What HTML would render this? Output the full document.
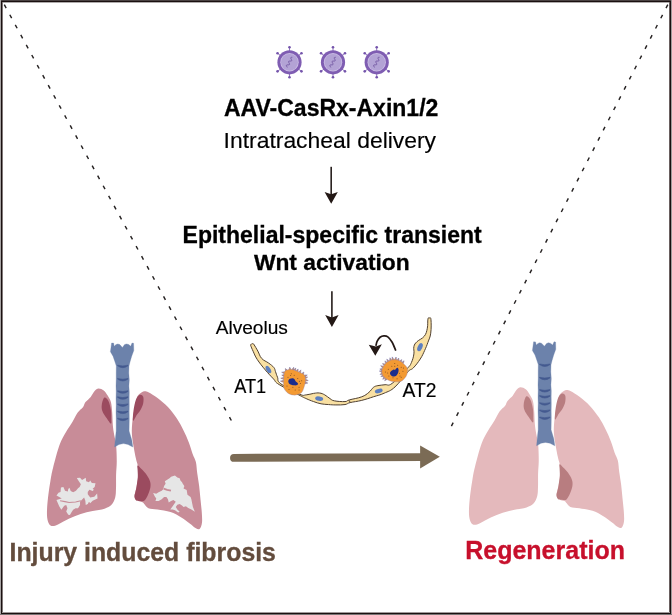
<!DOCTYPE html>
<html><head><meta charset="utf-8"><style>
html,body{margin:0;padding:0;background:#fff;width:672px;height:615px;overflow:hidden}
svg{display:block;will-change:transform}
text{font-family:"Liberation Sans",sans-serif}
</style></head><body>
<svg width="672" height="615" viewBox="0 0 672 615">
<g shape-rendering="crispEdges"><rect x="0" y="0" width="672" height="615" fill="#fff"/><rect x="2" y="2" width="668" height="1" fill="#b0acac"/><rect x="2" y="2" width="1" height="611" fill="#807878"/><rect x="669" y="2" width="1" height="611" fill="#6a6060"/><rect x="2" y="612" width="668" height="1" fill="#a09a9a"/><rect x="0" y="0" width="672" height="1" fill="#4a4242"/><rect x="0" y="0" width="1" height="615" fill="#a8a4a4"/><rect x="671" y="0" width="1" height="615" fill="#a09a9a"/><rect x="0" y="614" width="672" height="1" fill="#7a7575"/><rect x="1" y="1" width="670" height="1" fill="#1a1010"/><rect x="1" y="1" width="1" height="613" fill="#1a1010"/><rect x="670" y="1" width="1" height="613" fill="#1a1010"/><rect x="1" y="613" width="670" height="1" fill="#1a1010"/></g>
<line x1="4.3" y1="4.7" x2="231.6" y2="421" stroke="#262222" stroke-width="1.45" stroke-dasharray="3.9 7.56"/>
<line x1="667.8" y1="4.6" x2="450.4" y2="428" stroke="#262222" stroke-width="1.45" stroke-dasharray="3.9 7.56"/>
<g transform="translate(289.5,62.3)"><line x1="0" y1="0" x2="0" y2="-15" stroke="#7a58b0" stroke-width="0.8"/><circle cx="0" cy="-15" r="1.3" fill="#7454ab"/><line x1="0" y1="0" x2="11.98" y2="-9.03" stroke="#7a58b0" stroke-width="0.8"/><circle cx="11.98" cy="-9.03" r="1.3" fill="#7454ab"/><line x1="0" y1="0" x2="11.98" y2="9.03" stroke="#7a58b0" stroke-width="0.8"/><circle cx="11.98" cy="9.03" r="1.3" fill="#7454ab"/><line x1="0" y1="0" x2="0" y2="15" stroke="#7a58b0" stroke-width="0.8"/><circle cx="0" cy="15" r="1.3" fill="#7454ab"/><line x1="0" y1="0" x2="-11.98" y2="9.03" stroke="#7a58b0" stroke-width="0.8"/><circle cx="-11.98" cy="9.03" r="1.3" fill="#7454ab"/><line x1="0" y1="0" x2="-11.98" y2="-9.03" stroke="#7a58b0" stroke-width="0.8"/><circle cx="-11.98" cy="-9.03" r="1.3" fill="#7454ab"/><circle r="12.1" fill="#7f5db2"/><circle r="9.2" fill="#cbbde5"/><circle r="8.4" fill="#b3a3d5"/><path d="M2.8,-5 L2.26,-4.98 L1.79,-4.93 L1.44,-4.8 L1.24,-4.59 L1.21,-4.28 L1.32,-3.89 L1.54,-3.44 L1.81,-2.97 L2.05,-2.5 L2.21,-2.09 L2.23,-1.75 L2.1,-1.5 L1.81,-1.34 L1.38,-1.26 L0.86,-1.24 L0.31,-1.22 L-0.19,-1.18 L-0.59,-1.09 L-0.85,-0.91 L-0.95,-0.64 L-0.89,-0.28 L-0.71,0.15 L-0.45,0.62 L-0.19,1.09 L0.01,1.53 L0.09,1.9 L0.02,2.19 L-0.22,2.38 L-0.6,2.48 L-1.09,2.53 L-1.63,2.54 L-2.16,2.57 L-2.61,2.63 L-2.93,2.78 L-3.09,3.01 L-3.08,3.34 L-2.94,3.74 L-2.71,4.2 L-2.44,4.68 L-2.21,5.14" fill="none" stroke="#6c4f9c" stroke-width="0.85"/></g>
<g transform="translate(333,62.3)"><line x1="0" y1="0" x2="0" y2="-15" stroke="#7a58b0" stroke-width="0.8"/><circle cx="0" cy="-15" r="1.3" fill="#7454ab"/><line x1="0" y1="0" x2="11.98" y2="-9.03" stroke="#7a58b0" stroke-width="0.8"/><circle cx="11.98" cy="-9.03" r="1.3" fill="#7454ab"/><line x1="0" y1="0" x2="11.98" y2="9.03" stroke="#7a58b0" stroke-width="0.8"/><circle cx="11.98" cy="9.03" r="1.3" fill="#7454ab"/><line x1="0" y1="0" x2="0" y2="15" stroke="#7a58b0" stroke-width="0.8"/><circle cx="0" cy="15" r="1.3" fill="#7454ab"/><line x1="0" y1="0" x2="-11.98" y2="9.03" stroke="#7a58b0" stroke-width="0.8"/><circle cx="-11.98" cy="9.03" r="1.3" fill="#7454ab"/><line x1="0" y1="0" x2="-11.98" y2="-9.03" stroke="#7a58b0" stroke-width="0.8"/><circle cx="-11.98" cy="-9.03" r="1.3" fill="#7454ab"/><circle r="12.1" fill="#7f5db2"/><circle r="9.2" fill="#cbbde5"/><circle r="8.4" fill="#b3a3d5"/><path d="M2.8,-5 L2.26,-4.98 L1.79,-4.93 L1.44,-4.8 L1.24,-4.59 L1.21,-4.28 L1.32,-3.89 L1.54,-3.44 L1.81,-2.97 L2.05,-2.5 L2.21,-2.09 L2.23,-1.75 L2.1,-1.5 L1.81,-1.34 L1.38,-1.26 L0.86,-1.24 L0.31,-1.22 L-0.19,-1.18 L-0.59,-1.09 L-0.85,-0.91 L-0.95,-0.64 L-0.89,-0.28 L-0.71,0.15 L-0.45,0.62 L-0.19,1.09 L0.01,1.53 L0.09,1.9 L0.02,2.19 L-0.22,2.38 L-0.6,2.48 L-1.09,2.53 L-1.63,2.54 L-2.16,2.57 L-2.61,2.63 L-2.93,2.78 L-3.09,3.01 L-3.08,3.34 L-2.94,3.74 L-2.71,4.2 L-2.44,4.68 L-2.21,5.14" fill="none" stroke="#6c4f9c" stroke-width="0.85"/></g>
<g transform="translate(376.7,62.3)"><line x1="0" y1="0" x2="0" y2="-15" stroke="#7a58b0" stroke-width="0.8"/><circle cx="0" cy="-15" r="1.3" fill="#7454ab"/><line x1="0" y1="0" x2="11.98" y2="-9.03" stroke="#7a58b0" stroke-width="0.8"/><circle cx="11.98" cy="-9.03" r="1.3" fill="#7454ab"/><line x1="0" y1="0" x2="11.98" y2="9.03" stroke="#7a58b0" stroke-width="0.8"/><circle cx="11.98" cy="9.03" r="1.3" fill="#7454ab"/><line x1="0" y1="0" x2="0" y2="15" stroke="#7a58b0" stroke-width="0.8"/><circle cx="0" cy="15" r="1.3" fill="#7454ab"/><line x1="0" y1="0" x2="-11.98" y2="9.03" stroke="#7a58b0" stroke-width="0.8"/><circle cx="-11.98" cy="9.03" r="1.3" fill="#7454ab"/><line x1="0" y1="0" x2="-11.98" y2="-9.03" stroke="#7a58b0" stroke-width="0.8"/><circle cx="-11.98" cy="-9.03" r="1.3" fill="#7454ab"/><circle r="12.1" fill="#7f5db2"/><circle r="9.2" fill="#cbbde5"/><circle r="8.4" fill="#b3a3d5"/><path d="M2.8,-5 L2.26,-4.98 L1.79,-4.93 L1.44,-4.8 L1.24,-4.59 L1.21,-4.28 L1.32,-3.89 L1.54,-3.44 L1.81,-2.97 L2.05,-2.5 L2.21,-2.09 L2.23,-1.75 L2.1,-1.5 L1.81,-1.34 L1.38,-1.26 L0.86,-1.24 L0.31,-1.22 L-0.19,-1.18 L-0.59,-1.09 L-0.85,-0.91 L-0.95,-0.64 L-0.89,-0.28 L-0.71,0.15 L-0.45,0.62 L-0.19,1.09 L0.01,1.53 L0.09,1.9 L0.02,2.19 L-0.22,2.38 L-0.6,2.48 L-1.09,2.53 L-1.63,2.54 L-2.16,2.57 L-2.61,2.63 L-2.93,2.78 L-3.09,3.01 L-3.08,3.34 L-2.94,3.74 L-2.71,4.2 L-2.44,4.68 L-2.21,5.14" fill="none" stroke="#6c4f9c" stroke-width="0.85"/></g>
<text x="224" y="115.5" font-size="23" font-weight="bold" fill="#000" stroke="#000" stroke-width="0.3">AAV-CasRx-Axin1/2</text>
<text x="223.6" y="147.7" font-size="22.9" font-weight="normal" fill="#000" stroke="#000" stroke-width="0.15">Intratracheal delivery</text>
<text x="182.6" y="242.9" font-size="23" font-weight="bold" fill="#000" stroke="#000" stroke-width="0.3">Epithelial-specific transient</text>
<text x="253.9" y="270.1" font-size="22.8" font-weight="bold" fill="#000" stroke="#000" stroke-width="0.3">Wnt activation</text>
<text x="215.7" y="334.1" font-size="19.1" font-weight="normal" fill="#000" stroke="#000" stroke-width="0.15">Alveolus</text>
<text x="234.2" y="393.2" font-size="19.3" font-weight="normal" fill="#000" stroke="#000" stroke-width="0.15" textLength="32" lengthAdjust="spacingAndGlyphs">AT1</text>
<text x="402.6" y="396.6" font-size="19.3" font-weight="normal" fill="#000" stroke="#000" stroke-width="0.15">AT2</text>
<text x="9.5" y="561" font-size="24.85" font-weight="bold" fill="#634c3d" stroke="#634c3d" stroke-width="0.3">Injury induced fibrosis</text>
<text x="465.2" y="559.4" font-size="25" font-weight="bold" fill="#c7102c" stroke="#c7102c" stroke-width="0.3">Regeneration</text>
<line x1="331.2" y1="166.8" x2="331.2" y2="195.3" stroke="#2b2321" stroke-width="1.65"/><path d="M324.6,192 L331.2,194.3 L337.8,192 L331.2,203.7 Z" fill="#231815"/>
<line x1="331.9" y1="291.2" x2="331.9" y2="318.6" stroke="#2b2321" stroke-width="1.65"/><path d="M325.2,314.9 L331.9,317.6 L338.6,314.9 L331.9,327 Z" fill="#231815"/>
<line x1="234" y1="457.9" x2="422" y2="457.1" stroke="#7b6b55" stroke-width="7.9" stroke-linecap="round"/>
<path d="M420.1,445.4 L439.8,456.8 L420.1,468.5 Z" fill="#7b6b55"/>
<g transform="translate(0,0)"><path d="M98.54,388.46 C97.02,388.56 95.93,389.65 94.63,391.06 C93.33,392.47 92.25,395.07 90.73,396.91 C89.21,398.75 86.83,400.38 85.53,402.11 C84.23,403.85 84.23,405.58 82.93,407.32 C81.63,409.05 79.46,410.14 77.72,412.52 C75.99,414.91 74.47,418.37 72.52,421.63 C70.57,424.88 68.18,428.13 66.02,432.03 C63.85,435.93 61.68,439.04 59.51,445.04 C57.34,451.04 54.53,462.01 53.01,468.01 C51.49,474 51.17,476.68 50.41,481.02 C49.65,485.35 49,489.69 48.46,494.02 C47.91,498.36 47.37,503.13 47.15,507.03 C46.94,510.93 46.83,514.62 47.15,517.44 C47.48,520.26 48.21,522.52 49.11,523.94 C50,525.37 51.02,525.91 52.5,526 C53.98,526.09 55.28,525.7 58,524.5 C60.72,523.3 65.02,520.55 68.8,518.8 C72.58,517.05 76.73,515.3 80.7,514 C84.67,512.7 88.63,511.88 92.6,511 C96.57,510.12 101.35,509.73 104.5,508.7 C107.65,507.67 109.72,506.67 111.5,504.8 C113.28,502.93 114.45,500.3 115.2,497.5 C115.95,494.7 115.85,491.83 116,488 C116.15,484.17 115.97,478.93 116.1,474.51 C116.22,470.1 116.75,466.42 116.75,461.5 C116.75,456.59 116.53,449.52 116.1,445.04 C115.66,440.56 114.69,437.89 114.15,434.63 C113.6,431.38 113.17,429.21 112.85,425.53 C112.52,421.84 112.52,416.42 112.2,412.52 C111.87,408.62 111.65,404.93 110.89,402.11 C110.14,399.3 108.83,397.56 107.64,395.61 C106.45,393.66 105.26,391.6 103.74,390.41 C102.22,389.21 100.05,388.35 98.54,388.46 Z" fill="#c88c98"/><path d="M104.39,397.56 C105.47,396.91 107.21,398.75 108.29,400.81 C109.38,402.87 110.4,406.88 110.89,409.92 C111.39,412.95 111.28,416.75 111.28,419.02 C111.28,421.3 111.72,423.79 110.89,423.58 C110.07,423.36 107.75,419.78 106.34,417.72 C104.93,415.66 103.2,413.39 102.44,411.22 C101.68,409.05 101.46,406.99 101.79,404.72 C102.11,402.44 103.31,398.21 104.39,397.56 Z" fill="#9b4b5f"/><path d="M138.01,395.41 C139.09,394.11 141.48,392.05 143.21,391.5 C144.95,390.96 146.03,391.07 148.41,392.15 C150.8,393.24 154.27,395.51 157.52,398.01 C160.77,400.5 164.67,403.64 167.93,407.11 C171.18,410.58 174.43,414.92 177.03,418.82 C179.63,422.72 181.59,426.63 183.54,430.53 C185.49,434.43 187.22,438.33 188.74,442.24 C190.26,446.14 191.45,450.66 192.64,453.94 C193.83,457.23 195.14,458.77 195.89,461.95 C196.65,465.13 196.65,469 197.2,473.01 C197.74,477.02 198.6,481.68 199.15,486.02 C199.69,490.35 200.01,494.69 200.45,499.02 C200.88,503.36 201.49,508.13 201.75,512.03 C202.01,515.93 202.33,519.66 202.01,522.44 C201.68,525.21 200.82,527.71 199.8,528.68 C198.78,529.66 197.52,529.12 195.89,528.29 C194.27,527.47 192.53,525.58 190.04,523.74 C187.55,521.9 184.19,519.19 180.93,517.24 C177.68,515.28 174.43,513.33 170.53,512.03 C166.63,510.73 161.21,510.08 157.52,509.43 C153.83,508.78 150.58,509 148.41,508.13 C146.25,507.26 145.5,505.22 144.51,504.23 C143.53,503.24 143.75,502.8 142.5,502.2 C141.25,501.6 138.33,501.55 137,500.6 C135.67,499.65 134.62,498.6 134.5,496.5 C134.38,494.4 135.7,491.25 136.3,488 C136.9,484.75 137.85,480.67 138.1,477 C138.35,473.33 138.18,469.17 137.8,466 C137.42,462.83 136.74,462.83 135.8,458 C134.86,453.17 132.76,442.7 132.15,437.03 C131.55,431.37 131.83,428.36 132.15,424.02 C132.48,419.69 133.35,415.14 134.11,411.02 C134.86,406.9 136.06,401.91 136.71,399.31 C137.36,396.71 136.92,396.71 138.01,395.41 Z" fill="#c88c98"/><path d="M139.96,394.76 C141.15,394.32 142.67,395.3 143.21,396.71 C143.75,398.12 143.64,401.04 143.21,403.21 C142.78,405.38 141.69,407.76 140.61,409.72 C139.53,411.67 137.96,413.08 136.71,414.92 C135.45,416.76 133.61,421.42 133.07,420.77 C132.52,420.12 132.96,414.59 133.46,411.02 C133.95,407.44 134.97,402.02 136.06,399.31 C137.14,396.6 138.77,395.19 139.96,394.76 Z" fill="#9b4b5f"/><path d="M137.6,465.5 C138.25,465.33 140.12,467.62 141.5,469 C142.88,470.38 144.5,471.82 145.9,473.8 C147.3,475.78 149.15,478.67 149.9,480.9 C150.65,483.13 150.72,484.88 150.4,487.2 C150.08,489.52 148.98,492.57 148,494.8 C147.02,497.03 145.83,499.58 144.5,500.6 C143.17,501.62 141.42,500.97 140,500.9 C138.58,500.83 136.92,500.93 136,500.2 C135.08,499.47 134.6,497.87 134.5,496.5 C134.4,495.13 135.07,493.58 135.4,492 C135.73,490.42 136.1,489.5 136.5,487 C136.9,484.5 137.62,479.83 137.8,477 C137.98,474.17 137.63,471.92 137.6,470 C137.57,468.08 136.95,465.67 137.6,465.5 Z" fill="#9b4b5f"/><path d="M76.8,478.07 L80.05,477.66 L82.08,480.1 L84.52,478.47 L85.74,477.66 L86.15,481.32 L88.99,482.13 L90.21,480.5 L91.84,482.94 L95.5,483.35 L94.68,487.01 L92.65,488.63 L93.87,489.85 L92.65,491.07 L89.4,489.85 L87.77,491.89 L87.77,494.33 L90.21,497.58 L94.28,496.76 L97.12,493.51 L97.53,498.39 L92.65,500.83 L90.21,503.27 L88.99,501.64 L87.77,504.08 L85.74,504.89 L85.33,500.83 L84.11,497.58 L81.67,500.02 L80.05,501.64 L80.05,504.89 L78.02,508.15 L75.58,508.15 L73.14,509.77 L71.51,512.21 L69.89,515.06 L68.26,514.65 L66.23,511.4 L67.45,508.15 L66.23,504.89 L64.2,505.71 L61.35,509.77 L59.32,506.52 L56.47,500.02 L58.91,499.2 L61.76,498.39 L59.72,497.17 L56.47,495.54 L58.5,492.7 L60.54,491.89 L60.94,487.41 L63.38,487.01 L65.01,490.67 L67.85,491.48 L68.26,489.04 L69.48,487.82 L70.7,491.07 L73.14,492.29 L75.98,490.67 L78.02,488.23 L79.64,487.01 L80.86,484.16 L78.83,481.32 Z" fill="#e6e6e6"/><path d="M60.13,500.67 L65.01,501.64 L69.07,502.46 L75.58,502.05 L80.86,500.83" fill="none" stroke="#c88c98" stroke-width="1.1"/><path d="M171.07,476.68 L174.98,475.51 L177.32,477.46 L179.66,478.24 L180.44,480.59 L182,482.15 L182.78,483.71 L184.34,486.05 L183.56,488.39 L185.12,489.17 L186.68,489.95 L187.46,494.63 L190.59,496.98 L191.37,499.32 L192.15,503.22 L192.93,507.12 L194.88,511.8 L191.37,509.46 L188.24,507.9 L185.9,506.34 L183.56,507.12 L182,505.56 L179.66,504 L177.32,504.78 L175.76,507.12 L177.32,509.46 L179.66,511.8 L178.1,512.59 L174.98,510.24 L172.63,509.46 L170.29,509.46 L172.63,506.34 L174.2,504 L175.76,501.66 L173.41,500.1 L171.07,500.88 L168.73,502.44 L167.95,499.32 L166.39,496.98 L164.05,496.98 L161.71,499.32 L158.59,500.88 L155.46,500.88 L156.24,498.54 L154.68,496.2 L153.12,493.07 L156.24,493.85 L158.59,492.29 L161.71,490.73 L163.27,489.17 L164.05,486.05 L165.61,483.71 L164.83,481.37 L167.17,479.8 L169.51,478.24 Z" fill="#e6e6e6"/><path d="M163.66,488.55 L167.17,489.8 L170.92,490.73" fill="none" stroke="#c88c98" stroke-width="1.8"/><path d="M111.6,343 L113.6,343.1 L114.2,346.2 L116,344.6 L117.8,343.9 L119.8,344.6 L122.4,347.4 L124.6,344.6 L126.6,343.9 L128.8,344.6 L130.7,346.3 L132,343 L133.6,343.3 L133.8,350.5 L131.7,356.2 L130,361.9 L129,366 L128.8,373 L129.3,380 L128.9,386 L129.3,392 L129.2,398 L129.3,405 L129.2,412 L129.3,419 L129.1,431 L131.8,440 L132.8,447 L128,444.5 L123.5,443.6 L119,444.5 L114.6,447 L115.2,440 L116.2,431 L116.2,419 L116,412 L116.2,405 L116,398 L116.2,392 L116,386 L116.2,380 L116.2,373 L116.3,366 L115,361.9 L113,356.2 L110.4,351.7 Z" fill="#6c82ab" stroke="#6c82ab" stroke-width="0.3" stroke-linejoin="round"/><path d="M117.6,365.2 Q122.8,366.6 128,365.2 L128,365.8 Q122.8,369.6 117.6,365.8 Z" fill="#43598f" stroke="#43598f" stroke-width="0.6" stroke-linejoin="round"/><path d="M117.6,378.5 Q122.8,379.9 128,378.5 L128,379.1 Q122.8,382.9 117.6,379.1 Z" fill="#43598f" stroke="#43598f" stroke-width="0.6" stroke-linejoin="round"/><path d="M117.6,390.8 Q122.8,392.2 128,390.8 L128,391.4 Q122.8,395.2 117.6,391.4 Z" fill="#43598f" stroke="#43598f" stroke-width="0.6" stroke-linejoin="round"/><path d="M117.6,396.8 Q122.8,398.2 128,396.8 L128,397.4 Q122.8,401.2 117.6,397.4 Z" fill="#43598f" stroke="#43598f" stroke-width="0.6" stroke-linejoin="round"/><path d="M117.6,403.9 Q122.8,405.3 128,403.9 L128,404.5 Q122.8,408.3 117.6,404.5 Z" fill="#43598f" stroke="#43598f" stroke-width="0.6" stroke-linejoin="round"/><path d="M117.6,411.1 Q122.8,412.5 128,411.1 L128,411.7 Q122.8,415.5 117.6,411.7 Z" fill="#43598f" stroke="#43598f" stroke-width="0.6" stroke-linejoin="round"/><path d="M117.6,418.2 Q122.8,419.6 128,418.2 L128,418.8 Q122.8,422.6 117.6,418.8 Z" fill="#43598f" stroke="#43598f" stroke-width="0.6" stroke-linejoin="round"/></g>
<g transform="translate(422,-1.2)"><path d="M98.54,388.46 C97.02,388.56 95.93,389.65 94.63,391.06 C93.33,392.47 92.25,395.07 90.73,396.91 C89.21,398.75 86.83,400.38 85.53,402.11 C84.23,403.85 84.23,405.58 82.93,407.32 C81.63,409.05 79.46,410.14 77.72,412.52 C75.99,414.91 74.47,418.37 72.52,421.63 C70.57,424.88 68.18,428.13 66.02,432.03 C63.85,435.93 61.68,439.04 59.51,445.04 C57.34,451.04 54.53,462.01 53.01,468.01 C51.49,474 51.17,476.68 50.41,481.02 C49.65,485.35 49,489.69 48.46,494.02 C47.91,498.36 47.37,503.13 47.15,507.03 C46.94,510.93 46.83,514.62 47.15,517.44 C47.48,520.26 48.21,522.52 49.11,523.94 C50,525.37 51.02,525.91 52.5,526 C53.98,526.09 55.28,525.7 58,524.5 C60.72,523.3 65.02,520.55 68.8,518.8 C72.58,517.05 76.73,515.3 80.7,514 C84.67,512.7 88.63,511.88 92.6,511 C96.57,510.12 101.35,509.73 104.5,508.7 C107.65,507.67 109.72,506.67 111.5,504.8 C113.28,502.93 114.45,500.3 115.2,497.5 C115.95,494.7 115.85,491.83 116,488 C116.15,484.17 115.97,478.93 116.1,474.51 C116.22,470.1 116.75,466.42 116.75,461.5 C116.75,456.59 116.53,449.52 116.1,445.04 C115.66,440.56 114.69,437.89 114.15,434.63 C113.6,431.38 113.17,429.21 112.85,425.53 C112.52,421.84 112.52,416.42 112.2,412.52 C111.87,408.62 111.65,404.93 110.89,402.11 C110.14,399.3 108.83,397.56 107.64,395.61 C106.45,393.66 105.26,391.6 103.74,390.41 C102.22,389.21 100.05,388.35 98.54,388.46 Z" fill="#e4b9bc"/><path d="M104.39,397.56 C105.47,396.91 107.21,398.75 108.29,400.81 C109.38,402.87 110.4,406.88 110.89,409.92 C111.39,412.95 111.28,416.75 111.28,419.02 C111.28,421.3 111.72,423.79 110.89,423.58 C110.07,423.36 107.75,419.78 106.34,417.72 C104.93,415.66 103.2,413.39 102.44,411.22 C101.68,409.05 101.46,406.99 101.79,404.72 C102.11,402.44 103.31,398.21 104.39,397.56 Z" fill="#b87d80"/><path d="M138.01,395.41 C139.09,394.11 141.48,392.05 143.21,391.5 C144.95,390.96 146.03,391.07 148.41,392.15 C150.8,393.24 154.27,395.51 157.52,398.01 C160.77,400.5 164.67,403.64 167.93,407.11 C171.18,410.58 174.43,414.92 177.03,418.82 C179.63,422.72 181.59,426.63 183.54,430.53 C185.49,434.43 187.22,438.33 188.74,442.24 C190.26,446.14 191.45,450.66 192.64,453.94 C193.83,457.23 195.14,458.77 195.89,461.95 C196.65,465.13 196.65,469 197.2,473.01 C197.74,477.02 198.6,481.68 199.15,486.02 C199.69,490.35 200.01,494.69 200.45,499.02 C200.88,503.36 201.49,508.13 201.75,512.03 C202.01,515.93 202.33,519.66 202.01,522.44 C201.68,525.21 200.82,527.71 199.8,528.68 C198.78,529.66 197.52,529.12 195.89,528.29 C194.27,527.47 192.53,525.58 190.04,523.74 C187.55,521.9 184.19,519.19 180.93,517.24 C177.68,515.28 174.43,513.33 170.53,512.03 C166.63,510.73 161.21,510.08 157.52,509.43 C153.83,508.78 150.58,509 148.41,508.13 C146.25,507.26 145.5,505.22 144.51,504.23 C143.53,503.24 143.75,502.8 142.5,502.2 C141.25,501.6 138.33,501.55 137,500.6 C135.67,499.65 134.62,498.6 134.5,496.5 C134.38,494.4 135.7,491.25 136.3,488 C136.9,484.75 137.85,480.67 138.1,477 C138.35,473.33 138.18,469.17 137.8,466 C137.42,462.83 136.74,462.83 135.8,458 C134.86,453.17 132.76,442.7 132.15,437.03 C131.55,431.37 131.83,428.36 132.15,424.02 C132.48,419.69 133.35,415.14 134.11,411.02 C134.86,406.9 136.06,401.91 136.71,399.31 C137.36,396.71 136.92,396.71 138.01,395.41 Z" fill="#e4b9bc"/><path d="M139.96,394.76 C141.15,394.32 142.67,395.3 143.21,396.71 C143.75,398.12 143.64,401.04 143.21,403.21 C142.78,405.38 141.69,407.76 140.61,409.72 C139.53,411.67 137.96,413.08 136.71,414.92 C135.45,416.76 133.61,421.42 133.07,420.77 C132.52,420.12 132.96,414.59 133.46,411.02 C133.95,407.44 134.97,402.02 136.06,399.31 C137.14,396.6 138.77,395.19 139.96,394.76 Z" fill="#b87d80"/><path d="M137.6,465.5 C138.25,465.33 140.12,467.62 141.5,469 C142.88,470.38 144.5,471.82 145.9,473.8 C147.3,475.78 149.15,478.67 149.9,480.9 C150.65,483.13 150.72,484.88 150.4,487.2 C150.08,489.52 148.98,492.57 148,494.8 C147.02,497.03 145.83,499.58 144.5,500.6 C143.17,501.62 141.42,500.97 140,500.9 C138.58,500.83 136.92,500.93 136,500.2 C135.08,499.47 134.6,497.87 134.5,496.5 C134.4,495.13 135.07,493.58 135.4,492 C135.73,490.42 136.1,489.5 136.5,487 C136.9,484.5 137.62,479.83 137.8,477 C137.98,474.17 137.63,471.92 137.6,470 C137.57,468.08 136.95,465.67 137.6,465.5 Z" fill="#b87d80"/><path d="M111.6,343 L113.6,343.1 L114.2,346.2 L116,344.6 L117.8,343.9 L119.8,344.6 L122.4,347.4 L124.6,344.6 L126.6,343.9 L128.8,344.6 L130.7,346.3 L132,343 L133.6,343.3 L133.8,350.5 L131.7,356.2 L130,361.9 L129,366 L128.8,373 L129.3,380 L128.9,386 L129.3,392 L129.2,398 L129.3,405 L129.2,412 L129.3,419 L129.1,431 L131.8,440 L132.8,447 L128,444.5 L123.5,443.6 L119,444.5 L114.6,447 L115.2,440 L116.2,431 L116.2,419 L116,412 L116.2,405 L116,398 L116.2,392 L116,386 L116.2,380 L116.2,373 L116.3,366 L115,361.9 L113,356.2 L110.4,351.7 Z" fill="#6c82ab" stroke="#6c82ab" stroke-width="0.3" stroke-linejoin="round"/><path d="M117.6,365.2 Q122.8,366.6 128,365.2 L128,365.8 Q122.8,369.6 117.6,365.8 Z" fill="#43598f" stroke="#43598f" stroke-width="0.6" stroke-linejoin="round"/><path d="M117.6,378.5 Q122.8,379.9 128,378.5 L128,379.1 Q122.8,382.9 117.6,379.1 Z" fill="#43598f" stroke="#43598f" stroke-width="0.6" stroke-linejoin="round"/><path d="M117.6,390.8 Q122.8,392.2 128,390.8 L128,391.4 Q122.8,395.2 117.6,391.4 Z" fill="#43598f" stroke="#43598f" stroke-width="0.6" stroke-linejoin="round"/><path d="M117.6,396.8 Q122.8,398.2 128,396.8 L128,397.4 Q122.8,401.2 117.6,397.4 Z" fill="#43598f" stroke="#43598f" stroke-width="0.6" stroke-linejoin="round"/><path d="M117.6,403.9 Q122.8,405.3 128,403.9 L128,404.5 Q122.8,408.3 117.6,404.5 Z" fill="#43598f" stroke="#43598f" stroke-width="0.6" stroke-linejoin="round"/><path d="M117.6,411.1 Q122.8,412.5 128,411.1 L128,411.7 Q122.8,415.5 117.6,411.7 Z" fill="#43598f" stroke="#43598f" stroke-width="0.6" stroke-linejoin="round"/><path d="M117.6,418.2 Q122.8,419.6 128,418.2 L128,418.8 Q122.8,422.6 117.6,418.8 Z" fill="#43598f" stroke="#43598f" stroke-width="0.6" stroke-linejoin="round"/></g>
<path d="M250.98,344.52 C251.24,344.13 251.57,343.84 252.05,343.71 C252.53,343.58 252.96,343.67 253.38,343.88 C253.79,344.1 253.25,343.36 254.14,344.8 C255.04,346.24 256.34,348.37 257.85,351.1 C259.35,353.82 259.52,356.02 261.67,358.41 C263.81,360.8 266.14,361.23 268.58,363.05 C271.02,364.87 272.48,365.81 273.86,367.52 C275.24,369.23 274.76,369.63 275.49,371.59 C276.22,373.54 276.46,374.84 277.52,377.28 C278.58,379.72 276.38,380.41 280.77,383.78 C285.16,387.15 294.39,391.92 299.46,394.14 C304.54,396.36 303.33,395.03 306.16,394.88 C308.99,394.73 310.92,393.76 313.6,393.39 C316.28,393.02 317.32,392.72 319.55,393.02 C321.79,393.32 322.68,393.76 324.76,394.88 C326.85,396 328.04,397.41 329.97,398.6 C331.9,399.79 331.43,400.24 334.43,400.83 C337.44,401.43 342.03,401.76 345,401.58 C347.97,401.39 345.93,400.87 349.29,399.91 C352.64,398.95 357.86,398.3 361.79,396.79 C365.71,395.27 366.61,394.2 368.93,392.32 C371.25,390.45 371.61,388.75 373.39,387.41 C375.18,386.07 375.54,386.16 377.86,385.62 C380.18,385.09 382.14,385.18 385,384.73 C387.86,384.29 387.7,386.63 392.14,383.39 C396.58,380.15 403.33,372.73 407.2,368.54 C411.06,364.35 410.12,365.37 411.46,362.44 C412.8,359.51 413.41,357.07 413.9,353.9 C414.39,350.73 413.29,349.02 413.9,346.59 C414.51,344.15 414.88,343.78 416.95,341.71 C419.02,339.63 422.2,338.9 424.27,336.22 C426.34,333.54 426.59,331.71 427.32,328.29 C428.05,324.88 427.51,321.22 427.93,319.15 C428.34,317.07 428.78,317.8 429.39,317.93 C430,318.05 430.71,316.71 430.98,319.76 C431.24,322.8 431.34,328.66 430.73,333.17 C430.12,337.68 429.15,338.85 427.93,342.32 C426.71,345.78 426.17,347.15 424.63,350.49 C423.1,353.83 422.51,355.54 420.24,359.02 C417.98,362.51 415.8,365.34 413.29,367.93 C410.78,370.51 411.34,368.14 407.68,371.95 C404.02,375.76 399.72,382.71 395,386.96 C390.28,391.22 388.43,391.25 384.11,393.21 C379.79,395.18 377.86,395.36 373.39,396.79 C368.93,398.21 366.43,399.2 361.79,400.36 C357.14,401.52 353.54,401.75 350.18,402.59 C346.82,403.43 347.85,404.09 345,404.55 C342.15,405.02 339.23,404.93 335.92,404.93 C332.62,404.93 331.46,404.78 328.48,404.55 C325.51,404.33 324.02,404.4 321.04,403.81 C318.07,403.21 316.58,402.62 313.6,401.58 C310.62,400.54 309.14,399.94 306.16,398.6 C303.18,397.26 304.12,397.68 298.72,394.88 C293.32,392.08 284.2,387.79 279.15,384.59 C274.09,381.4 276.22,381.83 273.46,378.9 C270.69,375.98 268.58,373.86 265.33,369.96 C262.07,366.06 259.63,363.13 257.2,359.39 C254.76,355.65 254.41,354 253.13,351.26 C251.85,348.52 251.21,347.05 250.78,345.7 C250.35,344.36 250.73,344.92 250.98,344.52 Z" fill="#f9e0a2" stroke="#504030" stroke-width="1"/>
<line x1="349.29" y1="400.36" x2="350.18" y2="402.59" stroke="#504030" stroke-width="0.9"/>
<ellipse cx="268.4" cy="369.6" rx="2.1" ry="4.1" transform="rotate(-32 268.4 369.6)" fill="#5d7fc0"/>
<ellipse cx="319.2" cy="398.6" rx="4.1" ry="2.2" transform="rotate(10 319.2 398.6)" fill="#5d7fc0"/>
<ellipse cx="378.75" cy="391" rx="4" ry="2.1" transform="rotate(-15 378.75 391)" fill="#5d7fc0"/>
<ellipse cx="420" cy="347.2" rx="2.3" ry="4.3" transform="rotate(25 420 347.2)" fill="#5d7fc0"/>
<path d="M283.59,380.3 L280.44,381.13 L283.48,382.3 Z" fill="#f0962e" stroke="#6a70ba" stroke-width="0.55" stroke-linejoin="round"/><path d="M283.75,377.38 L280.76,378.21 L283.64,379.37 Z" fill="#f0962e" stroke="#6a70ba" stroke-width="0.55" stroke-linejoin="round"/><path d="M284.2,374.54 L281.74,375.13 L283.85,376.51 Z" fill="#f0962e" stroke="#6a70ba" stroke-width="0.55" stroke-linejoin="round"/><path d="M284.69,371.78 L281.64,372.26 L284.34,373.75 Z" fill="#f0962e" stroke="#6a70ba" stroke-width="0.55" stroke-linejoin="round"/><path d="M287.28,370.12 L285.36,368.52 L285.49,371.02 Z" fill="#f0962e" stroke="#6a70ba" stroke-width="0.55" stroke-linejoin="round"/><path d="M290.96,369.51 L289.76,367.18 L288.96,369.68 Z" fill="#f0962e" stroke="#6a70ba" stroke-width="0.55" stroke-linejoin="round"/><path d="M293.83,370.07 L293.72,367.27 L291.94,369.44 Z" fill="#f0962e" stroke="#6a70ba" stroke-width="0.55" stroke-linejoin="round"/><path d="M295.79,370.72 L295.65,367.96 L293.89,370.09 Z" fill="#f0962e" stroke="#6a70ba" stroke-width="0.55" stroke-linejoin="round"/><path d="M298.03,371.7 L298.12,369.01 L296.2,370.9 Z" fill="#f0962e" stroke="#6a70ba" stroke-width="0.55" stroke-linejoin="round"/><path d="M300.63,372.84 L300.83,369.89 L298.8,372.04 Z" fill="#f0962e" stroke="#6a70ba" stroke-width="0.55" stroke-linejoin="round"/><path d="M303.5,374.5 L303.82,372.02 L301.78,373.47 Z" fill="#f0962e" stroke="#6a70ba" stroke-width="0.55" stroke-linejoin="round"/><path d="M304.91,376.88 L307.26,375.04 L304.28,374.99 Z" fill="#f0962e" stroke="#6a70ba" stroke-width="0.55" stroke-linejoin="round"/><path d="M305.56,378.83 L307.61,377.1 L304.93,376.94 Z" fill="#f0962e" stroke="#6a70ba" stroke-width="0.55" stroke-linejoin="round"/><path d="M305.28,381.15 L308.23,380.52 L305.53,379.17 Z" fill="#f0962e" stroke="#6a70ba" stroke-width="0.55" stroke-linejoin="round"/><path d="M304.96,383.76 L307.76,383.1 L305.21,381.77 Z" fill="#f0962e" stroke="#6a70ba" stroke-width="0.55" stroke-linejoin="round"/><path d="M284.76,371.38 C285.46,370.19 286.82,370.08 288.01,369.76 C289.2,369.43 290.61,369.27 291.91,369.43 C293.21,369.59 294.3,370.14 295.81,370.73 C297.33,371.33 299.61,372.3 301.02,373.01 C302.43,373.71 303.51,373.98 304.27,374.96 C305.03,375.93 305.46,377.34 305.57,378.86 C305.68,380.38 305.24,382.44 304.92,384.07 C304.59,385.69 304.16,387.21 303.62,388.62 C303.08,390.03 302.64,391.54 301.67,392.52 C300.69,393.5 299.17,394.04 297.76,394.47 C296.36,394.91 294.84,395.34 293.21,395.12 C291.59,394.91 289.53,394.25 288.01,393.17 C286.49,392.09 284.86,390.35 284.11,388.62 C283.35,386.88 283.51,384.72 283.46,382.76 C283.4,380.81 283.56,378.81 283.78,376.91 C284,375.01 284.05,372.57 284.76,371.38 Z" fill="#f39a33" stroke="#8a78b8" stroke-width="0.45" stroke-opacity="0.7"/><path d="M288.33,380.81 C288.5,380.05 289.25,379.27 289.96,378.86 C290.66,378.45 291.8,378.29 292.56,378.34 C293.32,378.4 293.97,378.67 294.51,379.19 C295.05,379.71 295.38,380.92 295.81,381.46 C296.25,382.01 296.73,382.06 297.11,382.44 C297.49,382.82 298.09,383.31 298.09,383.74 C298.09,384.17 297.71,384.77 297.11,385.04 C296.52,385.31 295.49,385.42 294.51,385.37 C293.54,385.31 292.18,385.04 291.26,384.72 C290.34,384.39 289.47,384.07 288.98,383.41 C288.5,382.76 288.17,381.57 288.33,380.81 Z" fill="#1b2d8c"/><circle cx="291.26" cy="373.66" r="0.5" fill="#7a4a25"/><circle cx="290.61" cy="375.61" r="0.5" fill="#7a4a25"/><circle cx="294.19" cy="375.28" r="0.5" fill="#7a4a25"/><circle cx="288.01" cy="377.24" r="0.5" fill="#7a4a25"/><circle cx="297.76" cy="378.54" r="0.5" fill="#7a4a25"/><circle cx="299.39" cy="381.14" r="0.5" fill="#7a4a25"/><circle cx="301.67" cy="380.81" r="0.5" fill="#7a4a25"/><circle cx="300.37" cy="383.41" r="0.5" fill="#7a4a25"/><circle cx="287.03" cy="386.02" r="0.5" fill="#7a4a25"/><circle cx="292.89" cy="387.32" r="0.5" fill="#7a4a25"/><circle cx="288.98" cy="389.59" r="0.5" fill="#7a4a25"/><circle cx="295.16" cy="389.92" r="0.5" fill="#7a4a25"/><circle cx="299.07" cy="389.92" r="0.5" fill="#7a4a25"/><circle cx="299.07" cy="387.32" r="0.5" fill="#7a4a25"/>
<path d="M385.48,378.14 L384.69,380.65 L387.01,379.42 Z" fill="#f0962e" stroke="#6a70ba" stroke-width="0.55" stroke-linejoin="round"/><path d="M383.72,376.68 L382.8,379.34 L385.26,377.96 Z" fill="#f0962e" stroke="#6a70ba" stroke-width="0.55" stroke-linejoin="round"/><path d="M382.78,374.64 L380.96,376.51 L383.56,376.48 Z" fill="#f0962e" stroke="#6a70ba" stroke-width="0.55" stroke-linejoin="round"/><path d="M381.9,372.59 L380.06,374.47 L382.69,374.43 Z" fill="#f0962e" stroke="#6a70ba" stroke-width="0.55" stroke-linejoin="round"/><path d="M382.14,370.47 L379.38,371.09 L381.86,372.45 Z" fill="#f0962e" stroke="#6a70ba" stroke-width="0.55" stroke-linejoin="round"/><path d="M382.43,368.42 L379.8,369.06 L382.15,370.4 Z" fill="#f0962e" stroke="#6a70ba" stroke-width="0.55" stroke-linejoin="round"/><path d="M383.7,366.37 L380.71,365.68 L382.64,368.07 Z" fill="#f0962e" stroke="#6a70ba" stroke-width="0.55" stroke-linejoin="round"/><path d="M385.16,364.03 L382.55,363.58 L384.1,365.73 Z" fill="#f0962e" stroke="#6a70ba" stroke-width="0.55" stroke-linejoin="round"/><path d="M387.2,362.39 L384.92,360.92 L385.58,363.56 Z" fill="#f0962e" stroke="#6a70ba" stroke-width="0.55" stroke-linejoin="round"/><path d="M389.25,360.93 L386.77,359.17 L387.63,362.09 Z" fill="#f0962e" stroke="#6a70ba" stroke-width="0.55" stroke-linejoin="round"/><path d="M391.6,360.25 L389.96,357.79 L389.66,360.73 Z" fill="#f0962e" stroke="#6a70ba" stroke-width="0.55" stroke-linejoin="round"/><path d="M393.95,359.66 L392.23,356.92 L392.01,360.14 Z" fill="#f0962e" stroke="#6a70ba" stroke-width="0.55" stroke-linejoin="round"/><path d="M396.44,360.12 L396.11,357.02 L394.49,359.69 Z" fill="#f0962e" stroke="#6a70ba" stroke-width="0.55" stroke-linejoin="round"/><path d="M399.07,360.7 L398.65,358.01 L397.12,360.27 Z" fill="#f0962e" stroke="#6a70ba" stroke-width="0.55" stroke-linejoin="round"/><path d="M401.25,362.09 L401.79,359.61 L399.63,360.93 Z" fill="#f0962e" stroke="#6a70ba" stroke-width="0.55" stroke-linejoin="round"/><path d="M403.3,363.56 L404.06,360.78 L401.67,362.39 Z" fill="#f0962e" stroke="#6a70ba" stroke-width="0.55" stroke-linejoin="round"/><path d="M382.44,368.39 C383.02,366.93 384.2,364.98 385.37,363.71 C386.54,362.44 388,361.46 389.46,360.78 C390.93,360.1 392.49,359.61 394.15,359.61 C395.8,359.61 397.85,360.1 399.41,360.78 C400.98,361.46 402.34,362.73 403.51,363.71 C404.68,364.68 405.76,365.66 406.44,366.63 C407.12,367.61 407.51,368.29 407.61,369.56 C407.71,370.83 407.51,372.78 407.02,374.24 C406.54,375.71 405.66,377.17 404.68,378.34 C403.71,379.51 402.54,380.68 401.17,381.27 C399.8,381.85 398.15,381.85 396.49,381.85 C394.83,381.85 392.78,381.66 391.22,381.27 C389.66,380.88 388.39,380.29 387.12,379.51 C385.85,378.73 384.49,377.76 383.61,376.59 C382.73,375.41 382.05,373.85 381.85,372.49 C381.66,371.12 381.85,369.85 382.44,368.39 Z" fill="#f39a33" stroke="#8a78b8" stroke-width="0.45" stroke-opacity="0.7"/><path d="M390.34,371.9 C390.73,371.32 391.56,370.54 392.39,370.15 C393.22,369.76 394.68,369.85 395.32,369.56 C395.95,369.27 395.8,368.68 396.2,368.39 C396.59,368.1 397.27,367.61 397.66,367.8 C398.05,368 398.44,368.78 398.54,369.56 C398.63,370.34 398.59,371.51 398.24,372.49 C397.9,373.46 397.27,374.73 396.49,375.41 C395.71,376.1 394.44,376.59 393.56,376.59 C392.68,376.59 391.8,375.9 391.22,375.41 C390.63,374.93 390.2,374.24 390.05,373.66 C389.9,373.07 389.95,372.49 390.34,371.9 Z" fill="#1b2d8c"/><circle cx="394.73" cy="363.41" r="0.5" fill="#7a4a25"/><circle cx="397.66" cy="365.17" r="0.5" fill="#7a4a25"/><circle cx="391.8" cy="366.34" r="0.5" fill="#7a4a25"/><circle cx="394.73" cy="366.34" r="0.5" fill="#7a4a25"/><circle cx="401.17" cy="367.22" r="0.5" fill="#7a4a25"/><circle cx="403.51" cy="368.1" r="0.5" fill="#7a4a25"/><circle cx="388.29" cy="369.27" r="0.5" fill="#7a4a25"/><circle cx="385.37" cy="371.9" r="0.5" fill="#7a4a25"/><circle cx="387.71" cy="373.07" r="0.5" fill="#7a4a25"/><circle cx="402.93" cy="371.32" r="0.5" fill="#7a4a25"/><circle cx="399.41" cy="373.37" r="0.5" fill="#7a4a25"/><circle cx="388.88" cy="376" r="0.5" fill="#7a4a25"/><circle cx="392.98" cy="377.76" r="0.5" fill="#7a4a25"/><circle cx="400" cy="376" r="0.5" fill="#7a4a25"/><circle cx="401.17" cy="377.17" r="0.5" fill="#7a4a25"/><circle cx="397.07" cy="378.63" r="0.5" fill="#7a4a25"/>
<path d="M395.85,350.62 C395.2,349.18 393.32,344.29 391.98,341.99 C390.64,339.69 389.15,337.83 387.81,336.81 C386.47,335.79 385.23,335.79 383.94,335.86 C382.65,335.93 381.19,336.33 380.07,337.23 C378.95,338.12 377.91,339.78 377.21,341.21 C376.52,342.65 376.12,345.08 375.9,345.86" fill="none" stroke="#231815" stroke-width="1.7"/>
<path d="M368.76,344.67 L375.9,346.45 L381.86,344.37 L375.31,355.68 Z" fill="#231815"/>
</svg>
</body></html>
